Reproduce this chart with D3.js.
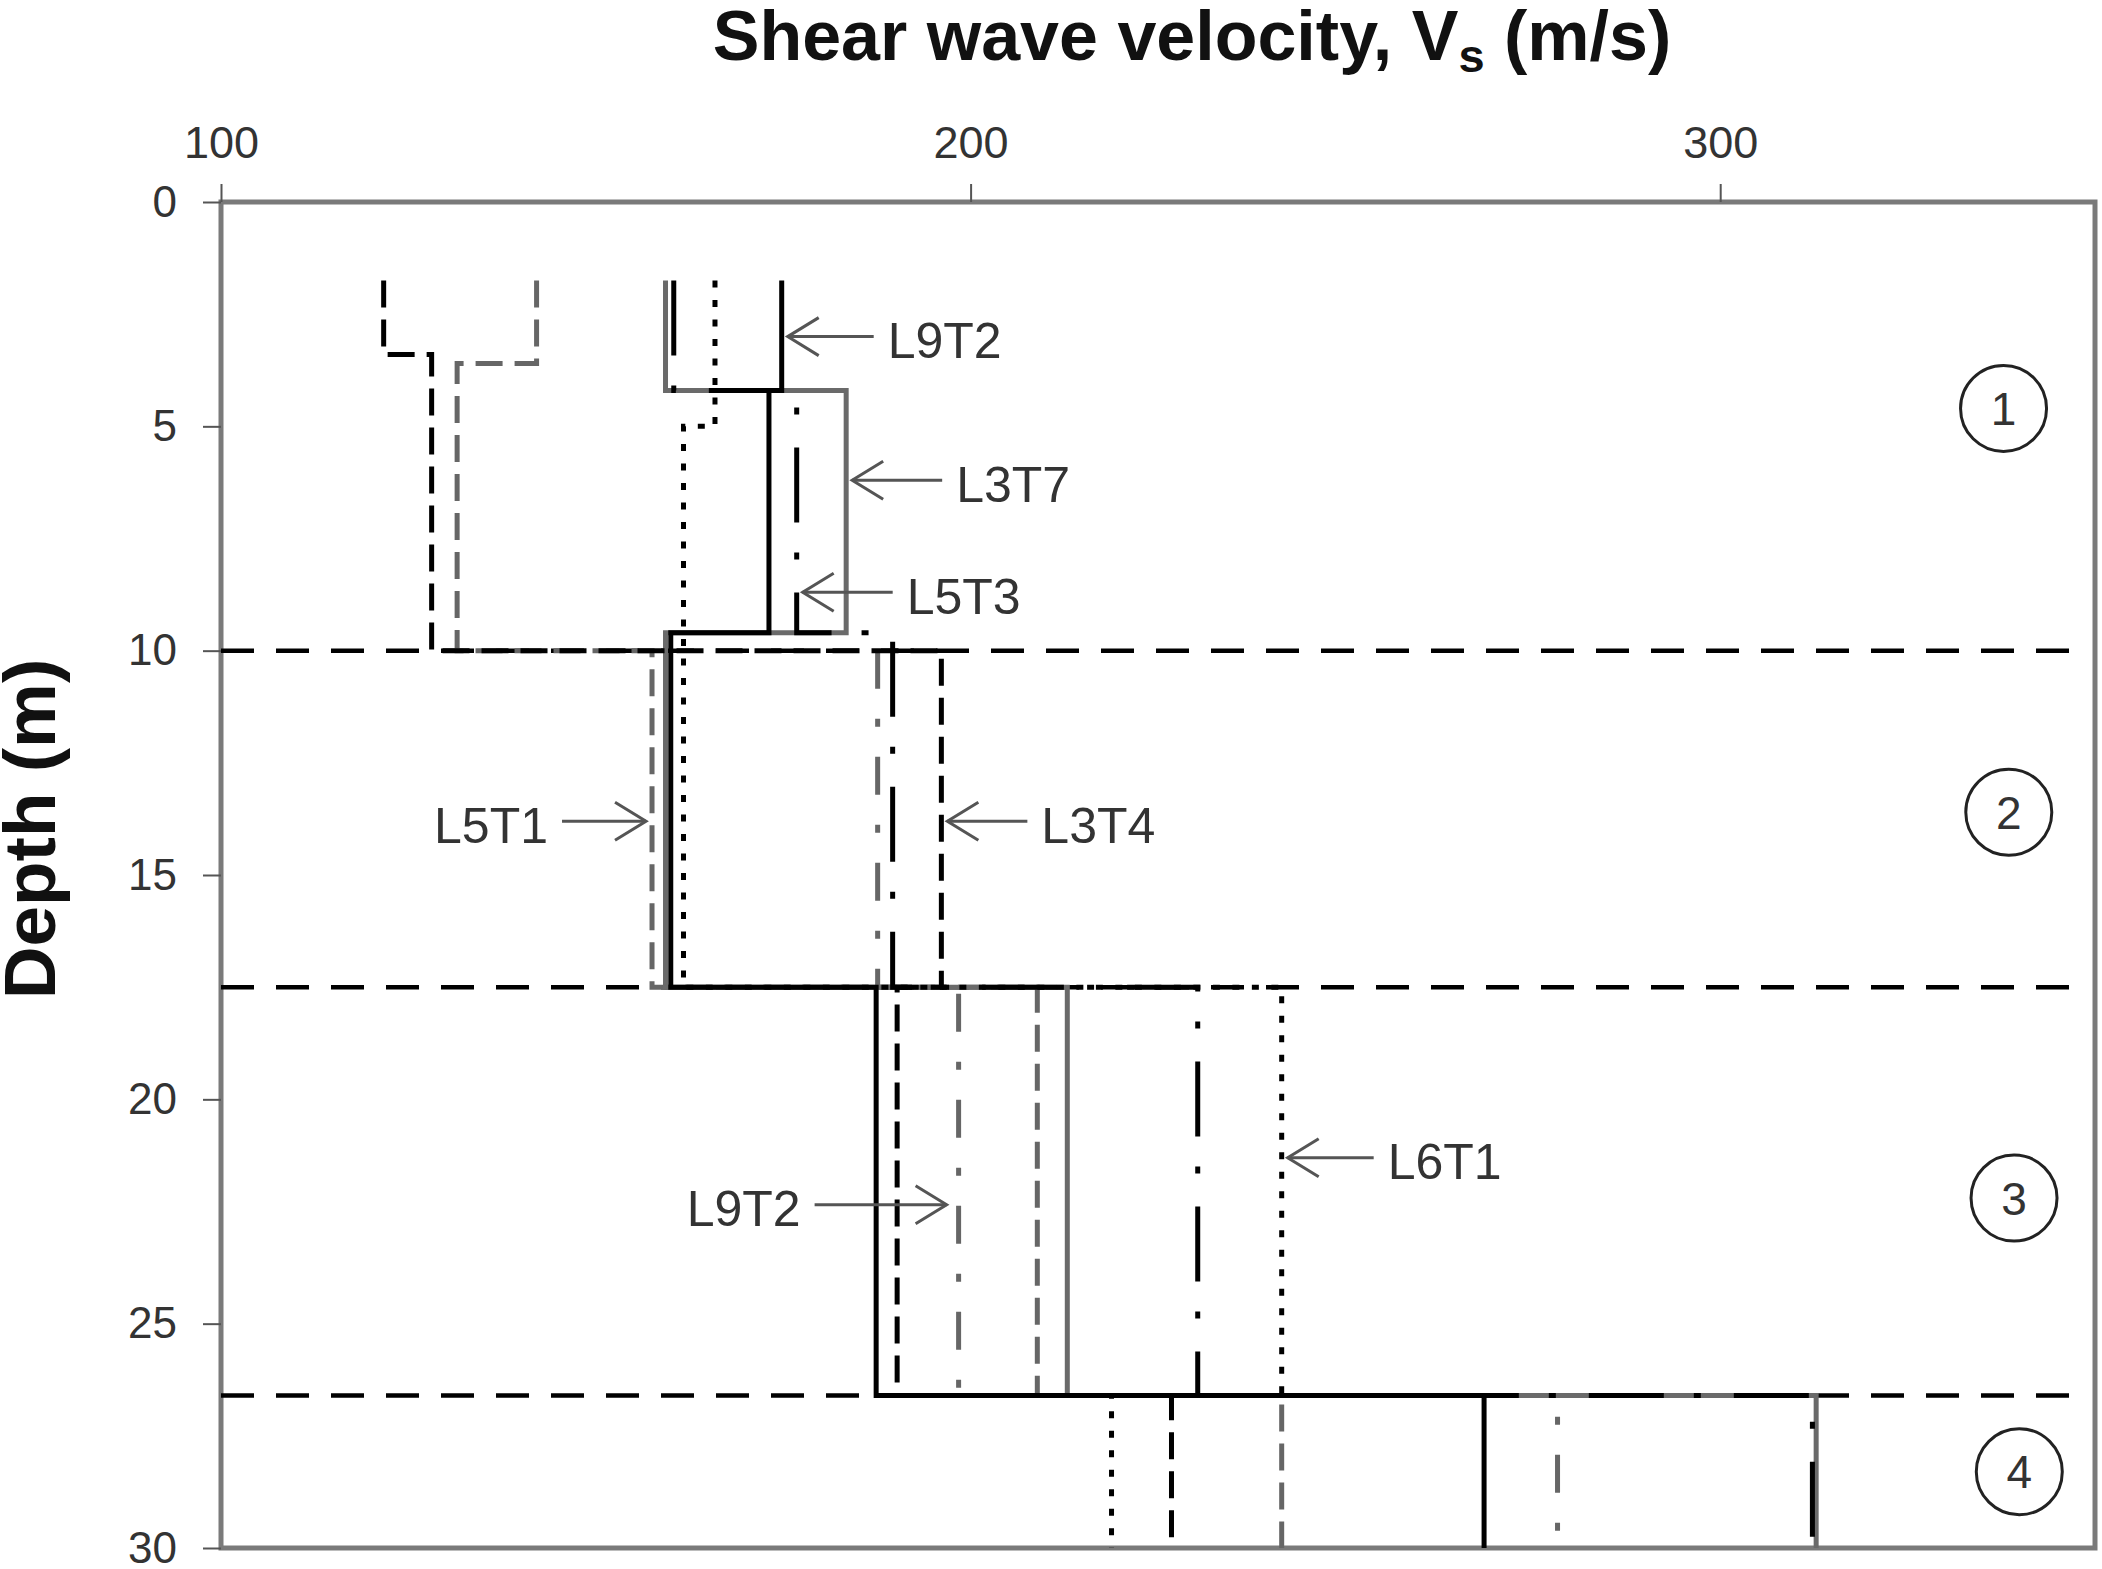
<!DOCTYPE html>
<html>
<head>
<meta charset="utf-8">
<script src="https://cdn.jsdelivr.net/npm/d3@7"></script>
<style>
  body { margin: 0; background: #fff; }
  svg { display: block; font-family: 'Liberation Sans', Arial, sans-serif; }
</style>
</head>
<body>
<svg id="chart"></svg>
<script>
// layer boundaries (m) and layer numbers
let layerBounds = [10, 17.5, 26.6]
let layerNames = ['1', '2', '3', '4']
let layerLabelDepth = [4.6, 13.6, 22.2, 28.3]

let xTicks = [100, 200, 300]
let yTicks = [0, 5, 10, 15, 20, 25, 30]

// step profiles: depth breaks (top of each step + bottom) and Vs of each step
let blackSolidDepth = [1.75, 4.2, 9.6, 17.5, 26.6, 30]
let blackSolidVs = [174.8, 173.1, 160.0, 187.4, 268.5]
let graySolidDepth = [1.75, 4.2, 9.6, 17.5, 26.6, 30]
let graySolidVs = [159.3, 183.4, 159.3, 212.9, 312.8]
let blackDashDepth = [1.75, 3.4, 10, 17.5, 26.6, 30]
let blackDashVs = [121.7, 128.1, 196.1, 190.2, 226.8]
let grayDashDepth = [1.75, 3.6, 10, 17.5, 26.6, 30]
let grayDashVs = [142.1, 131.5, 157.5, 208.9, 241.5]
let dottedDepth = [1.75, 5.0, 17.5, 26.6, 30]
let dottedVs = [165.9, 161.7, 241.5, 218.8]
let blackDashDotDepth = [1.75, 4.2, 9.6, 17.5, 26.6, 30]
let blackDashDotVs = [160.4, 176.8, 189.6, 230.3, 312.3]
let grayDashDotDepth = [10, 17.5, 26.6, 30]
let grayDashDotVs = [187.6, 198.4, 278.3]

// arrow annotations: text, Vs of the pointed line, depth of arrow, side of text
let annoText = ['L9T2', 'L3T7', 'L5T3', 'L5T1', 'L3T4', 'L6T1', 'L9T2']
let annoVs = [174.8, 183.4, 176.8, 157.5, 196.1, 241.5, 197.6]
let annoDepth = [3.0, 6.2, 8.7, 13.8, 13.8, 21.3, 22.35]
let annoSide = ['right', 'right', 'right', 'left', 'right', 'right', 'left']
let annoLen = [86, 90, 90, 84, 80, 86, 132]

let W = 2102
let H = 1569
let plot = { left: 221, right: 2095, top: 202, bottom: 1548 }

let svg = d3.select('#chart').attr('width', W).attr('height', H)
svg.append('rect').attr('width', W).attr('height', H).attr('fill', '#fff')

let x = d3.scaleLinear().domain([100, 350]).range([plot.left, plot.right])
let y = d3.scaleLinear().domain([0, 30]).range([plot.top, plot.bottom])

// plot area border
svg.append('rect')
  .attr('x', plot.left).attr('y', plot.top)
  .attr('width', plot.right - plot.left).attr('height', plot.bottom - plot.top)
  .attr('fill', 'none').attr('stroke', '#7a7a7a').attr('stroke-width', 5)

let xAxis = d3.axisTop(x).tickValues(xTicks).tickSize(18).tickSizeOuter(0).tickPadding(26)
let gx = svg.append('g').attr('transform', 'translate(0,' + plot.top + ')').call(xAxis)
let yAxis = d3.axisLeft(y).tickValues(yTicks).tickSize(18).tickSizeOuter(0).tickPadding(26)
let gy = svg.append('g').attr('transform', 'translate(' + plot.left + ',0)').call(yAxis)
;[gx, gy].forEach(g => {
  g.select('.domain').remove()
  g.selectAll('.tick line').attr('stroke', '#555').attr('stroke-width', 2)
  g.selectAll('.tick text').attr('fill', '#333').attr('font-size', 45)
    .attr('font-family', "'Liberation Sans', Arial, sans-serif")
})
gy.selectAll('.tick text').attr('font-size', 44)

// titles
let title = svg.append('text')
  .attr('x', 1192).attr('y', 60)
  .attr('text-anchor', 'middle')
  .attr('font-size', 70).attr('font-weight', 'bold').attr('fill', '#111')
title.append('tspan').text('Shear wave velocity, V')
title.append('tspan').text('s').attr('font-size', 47).attr('dy', 12)
title.append('tspan').text(' (m/s)').attr('dy', -12)

svg.append('text')
  .attr('transform', 'translate(55,829) rotate(-90)')
  .attr('text-anchor', 'middle')
  .attr('font-size', 73).attr('font-weight', 'bold').attr('fill', '#111')
  .text('Depth (m)')

// layer boundaries
svg.append('g').selectAll('line').data(layerBounds).join('line')
  .attr('x1', plot.left).attr('x2', plot.right - 12)
  .attr('y1', d => y(d)).attr('y2', d => y(d))
  .attr('stroke', '#000').attr('stroke-width', 4.5)
  .attr('stroke-dasharray', '33,22')

// profiles
let profiles = [
  { depth: grayDashDotDepth, vs: grayDashDotVs, color: '#666', dash: '38,30,8,30' },
  { depth: grayDashDepth, vs: grayDashVs, color: '#666', dash: '27,12' },
  { depth: graySolidDepth, vs: graySolidVs, color: '#6a6a6a', dash: null },
  { depth: dottedDepth, vs: dottedVs, color: '#000', dash: '7,12.5' },
  { depth: blackDashDepth, vs: blackDashVs, color: '#000', dash: '27,12' },
  { depth: blackDashDotDepth, vs: blackDashDotVs, color: '#000', dash: '75,30,7,33' },
  { depth: blackSolidDepth, vs: blackSolidVs, color: '#000', dash: null }
]

let stepPoints = p => {
  let pts = []
  p.vs.forEach((v, i) => {
    pts.push([v, p.depth[i]])
    pts.push([v, p.depth[i + 1]])
  })
  return pts
}
let line = d3.line().x(d => x(d[0])).y(d => y(d[1]))

svg.append('g').selectAll('path').data(profiles).join('path')
  .attr('d', d => line(stepPoints(d)))
  .attr('fill', 'none')
  .attr('stroke', d => d.color)
  .attr('stroke-width', 5)
  .attr('stroke-dasharray', d => d.dash)

// annotations
let annos = annoText.map((t, i) => ({ text: t, vs: annoVs[i], depth: annoDepth[i], side: annoSide[i], len: annoLen[i] }))
let ag = svg.append('g')
annos.forEach(a => {
  let dir = a.side === 'right' ? 1 : -1
  let tipX = x(a.vs) + dir * 6
  let yy = y(a.depth)
  let tailX = tipX + dir * a.len
  let g = ag.append('g').attr('stroke', '#555').attr('stroke-width', 3).attr('fill', 'none')
  g.append('line').attr('x1', tipX).attr('x2', tailX).attr('y1', yy).attr('y2', yy)
  g.append('path')
    .attr('d', 'M' + (tipX + dir * 31) + ',' + (yy - 19) + 'L' + tipX + ',' + yy + 'L' + (tipX + dir * 31) + ',' + (yy + 19))
  ag.append('text')
    .attr('x', tailX + dir * 14).attr('y', yy + 4)
    .attr('dy', '0.35em')
    .attr('text-anchor', a.side === 'right' ? 'start' : 'end')
    .attr('font-size', 50).attr('fill', '#333')
    .text(a.text)
})

// circled layer numbers
let lg = svg.append('g')
layerNames.forEach((n, i) => {
  let cx = x(337.8 + i * 0.7)
  let cy = y(layerLabelDepth[i])
  lg.append('circle').attr('cx', cx).attr('cy', cy).attr('r', 43)
    .attr('fill', 'none').attr('stroke', '#222').attr('stroke-width', 3)
  lg.append('text').attr('x', cx).attr('y', cy).attr('dy', '0.36em')
    .attr('text-anchor', 'middle').attr('font-size', 46).attr('fill', '#333')
    .text(n)
})
</script>
</body>
</html>
